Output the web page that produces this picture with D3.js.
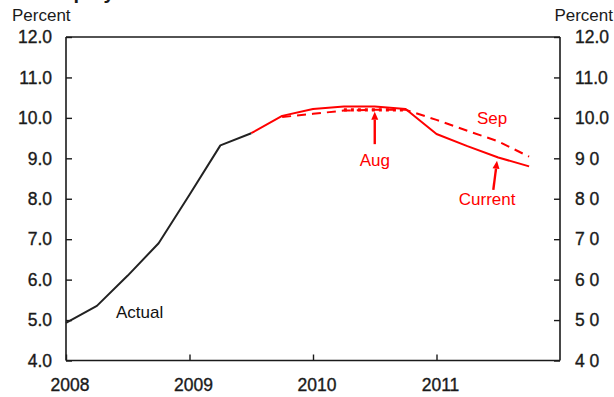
<!DOCTYPE html>
<html>
<head>
<meta charset="utf-8">
<script src="https://cdn.jsdelivr.net/npm/d3@7"></script>
<style>
  html, body { margin: 0; padding: 0; background: #fff; }
  svg { display: block; font-family: "Liberation Sans", Arial, sans-serif; }
  .heavy { stroke-width: 0.35px; paint-order: stroke; }
</style>
</head>
<body>
<svg id="chart" width="614" height="397"></svg>
<script>
// ---- Data ----
const titleText = "Unemployment Rate";
const unitLabel = "Percent";
const yTicks = [4, 5, 6, 7, 8, 9, 10, 11, 12];
const yTickLabelsLeft = ["4.0", "5.0", "6.0", "7.0", "8.0", "9.0", "10.0", "11.0", "12.0"];
const yTickLabelsRight = ["4 0", "5 0", "6 0", "7 0", "8 0", "9 0", "10.0", "11.0", "12.0"];
const xTicks = [2008, 2009, 2010, 2011];

const actualDates  = [2008.0, 2008.25, 2008.5, 2008.75, 2009.0, 2009.25, 2009.5];
const actualValues = [4.93, 5.35, 6.1, 6.9, 8.1, 9.32, 9.62];

const currentDates  = [2009.5, 2009.75, 2010.0, 2010.25, 2010.5, 2010.75, 2011.0, 2011.25, 2011.5, 2011.75];
const currentValues = [9.62, 10.05, 10.22, 10.28, 10.28, 10.22, 9.6, 9.3, 9.02, 8.8];

const sepDates  = [2009.75, 2010.0, 2010.25, 2010.5, 2010.75, 2011.0, 2011.25, 2011.5, 2011.75];
const sepValues = [10.02, 10.1, 10.18, 10.2, 10.2, 9.95, 9.68, 9.42, 9.04];

const augDates  = [2010.25, 2010.5, 2010.75];
const augValues = [10.2, 10.2, 10.2];

// annotations: [label, date, value] ; arrows: [tailDate, tailVal, tipDate, tipVal]
const labelActual  = ["Actual", 2008.405, 5.05];
const labelSep     = ["Sep", 2011.45, 9.85];
const labelAug     = ["Aug", 2010.5, 8.81];
const labelCurrent = ["Current", 2011.41, 7.85];
const arrowAug     = [2010.5, 9.35, 2010.5, 10.15];
const arrowCurrent = [2011.46, 8.22, 2011.49, 8.94];

// ---- Layout ----
const mLeft = 66, mRight = 560, mTop = 37, mBottom = 360.5;
const svg = d3.select("#chart");
const x = d3.scaleLinear().domain([2008, 2012]).range([mLeft, mRight]);
const y = d3.scaleLinear().domain([4, 12]).range([mBottom, mTop]);
const ink = "#1a1a1a";
const red = "#ff0000";
const fs = 17.5;

// Title (clipped at top like the reference)
svg.append("text").attr("x", 18).attr("y", -1)
  .attr("font-size", 20).attr("font-weight", "bold").attr("fill", ink)
  .text(titleText);

// unit labels
svg.append("text").attr("x", 12).attr("y", 21).attr("font-size", 17).attr("fill", ink).text(unitLabel);
svg.append("text").attr("x", 613).attr("y", 21).attr("text-anchor", "end").attr("font-size", 17).attr("fill", ink).text(unitLabel);

// Axes
const gL = svg.append("g").attr("transform", `translate(${mLeft},0)`)
  .call(d3.axisRight(y).tickValues(yTicks).tickSize(6).tickFormat(""));
const gR = svg.append("g").attr("transform", `translate(${mRight},0)`)
  .call(d3.axisLeft(y).tickValues(yTicks).tickSize(6).tickFormat(""));
const gB = svg.append("g").attr("transform", `translate(0,${mBottom})`)
  .call(d3.axisTop(x).tickValues(xTicks).tickSize(6).tickFormat(""));
// top frame line
svg.append("line").attr("x1", mLeft).attr("x2", mRight).attr("y1", mTop).attr("y2", mTop)
  .attr("stroke", ink).attr("stroke-width", 1.6);
[gL, gR, gB].forEach(g => {
  g.select(".domain").attr("stroke", ink).attr("stroke-width", 1.6);
  g.selectAll(".tick line").attr("stroke", ink).attr("stroke-width", 1.4);
});
gL.select(".domain").attr("d", `M0,${mTop}V${mBottom}`);
gR.select(".domain").attr("d", `M0,${mTop}V${mBottom}`);
gB.select(".domain").attr("d", `M${mLeft},0H${mRight}`);

// tick labels
svg.append("g").selectAll("text").data(yTicks).join("text")
  .attr("class", "heavy").attr("stroke", ink)
  .attr("x", 52).attr("y", d => y(d)).attr("dy", "0.36em")
  .attr("text-anchor", "end").attr("font-size", fs).attr("fill", ink)
  .text((d, i) => yTickLabelsLeft[i]);
svg.append("g").selectAll("text").data(yTicks).join("text")
  .attr("class", "heavy").attr("stroke", ink)
  .attr("x", 575).attr("y", d => y(d)).attr("dy", "0.36em")
  .attr("font-size", fs).attr("fill", ink)
  .text((d, i) => yTickLabelsRight[i]);
svg.append("g").selectAll("text").data(xTicks).join("text")
  .attr("class", "heavy").attr("stroke", ink)
  .attr("x", d => x(d) + 4).attr("y", 391)
  .attr("text-anchor", "middle").attr("font-size", fs).attr("fill", ink)
  .text(d => d);

// Lines
const line = d3.line().x(d => x(d[0])).y(d => y(d[1]));
const zip = (a, b) => a.map((v, i) => [v, b[i]]);

svg.append("path").datum(zip(sepDates, sepValues)).attr("d", line)
  .attr("fill", "none").attr("stroke", red).attr("stroke-width", 2)
  .attr("stroke-dasharray", "9,6");
svg.append("path").datum(zip(augDates, augValues)).attr("d", line)
  .attr("fill", "none").attr("stroke", red).attr("stroke-width", 3.2)
  .attr("stroke-dasharray", "3,4");
svg.append("path").datum(zip(currentDates, currentValues)).attr("d", line)
  .attr("fill", "none").attr("stroke", red).attr("stroke-width", 2)
  .attr("stroke-linejoin", "round");
svg.append("path").datum(zip(actualDates, actualValues)).attr("d", line)
  .attr("fill", "none").attr("stroke", "#222").attr("stroke-width", 2)
  .attr("stroke-linejoin", "round");

// Arrows
function arrow(a) {
  const x1 = x(a[0]), y1 = y(a[1]), x2 = x(a[2]), y2 = y(a[3]);
  const ang = Math.atan2(y2 - y1, x2 - x1);
  const hl = 8, hw = 3.5;
  const bx = x2 - hl * Math.cos(ang), by = y2 - hl * Math.sin(ang);
  svg.append("line").attr("x1", x1).attr("y1", y1).attr("x2", bx).attr("y2", by)
    .attr("stroke", red).attr("stroke-width", 2.4);
  const px = -Math.sin(ang) * hw, py = Math.cos(ang) * hw;
  svg.append("path")
    .attr("d", `M${x2},${y2}L${bx + px},${by + py}L${bx - px},${by - py}Z`)
    .attr("fill", red);
}
arrow(arrowAug);
arrow(arrowCurrent);

// Labels
svg.append("text").attr("x", x(labelActual[1])).attr("y", y(labelActual[2]))
  .attr("font-size", 17).attr("fill", "#111").text(labelActual[0]);
[labelSep, labelAug, labelCurrent].forEach(l => {
  svg.append("text").attr("x", x(l[1])).attr("y", y(l[2]))
    .attr("text-anchor", "middle").attr("font-size", 17).attr("fill", red).text(l[0]);
});
</script>
</body>
</html>
